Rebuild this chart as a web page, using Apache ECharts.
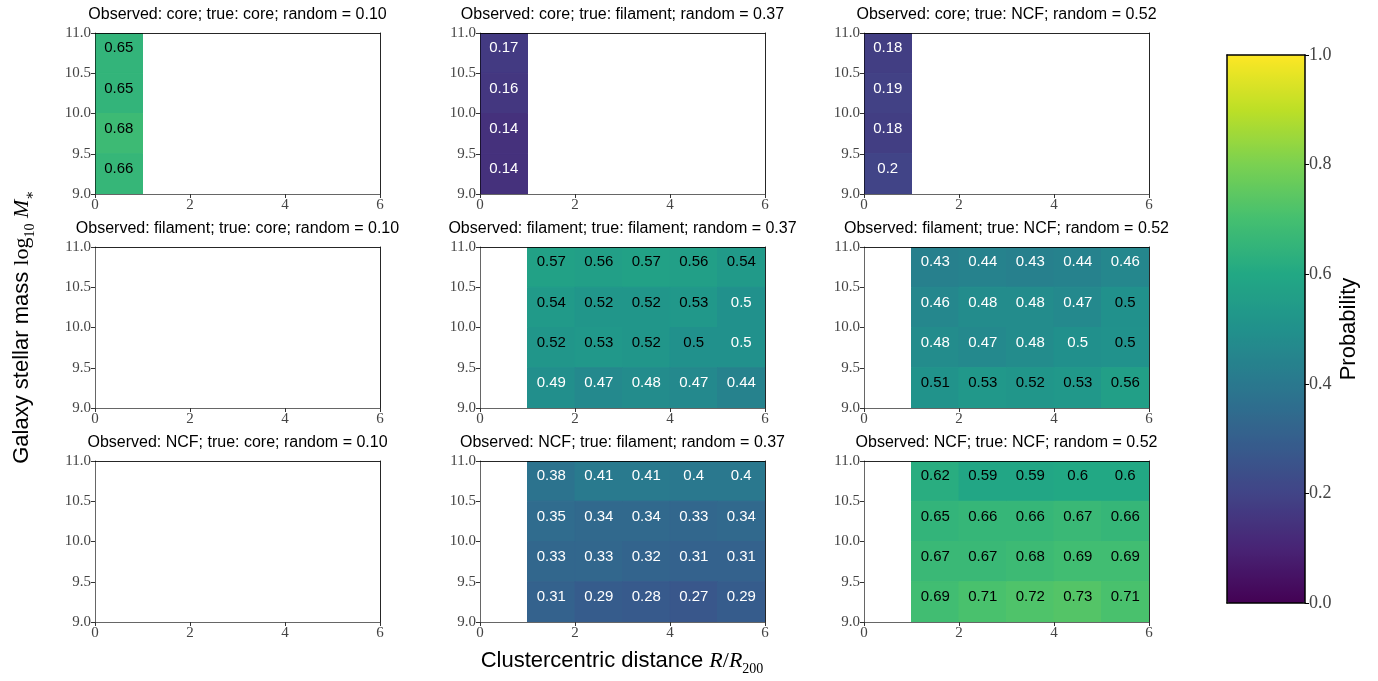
<!DOCTYPE html>
<html lang="en">
  <head>
    <meta charset="UTF-8" />
    <title>environment probabilities</title>
    <script src="https://cdn.jsdelivr.net/npm/echarts@6/dist/echarts.min.js"></script>
    <style>
      html, body { margin: 0; background: #fff; }
      #main { width: 1378px; height: 681px; }
    </style>
  </head>
  <body>
    <div id="main"></div>
    <script>
      // bin edges of the 2d histograms
      let distEdges = [0, 1, 2, 3, 4, 5, 6]
      let massEdges = [9.0, 9.5, 10.0, 10.5, 11.0]
      let environments = ['core', 'filament', 'NCF']
      let randomProb = [0.10, 0.37, 0.52]   // by true environment
      let firstBin = [0, 1, 1]               // first distance bin, by observed environment
      let xTicks = [0, 6, 2]                 // min, max, step
      let yTicks = [9.0, 11.0, 0.5]
      let cbarTicks = [0, 1, 0.2]

      // rows go from the top mass bin (10.5-11.0) down to 9.0-9.5
      let coreCore = [[0.65], [0.65], [0.68], [0.66]]
      let coreFil = [[0.17], [0.16], [0.14], [0.14]]
      let coreNcf = [[0.18], [0.19], [0.18], [0.2]]
      let filCore = []
      let filFil = [
        [0.57, 0.56, 0.57, 0.56, 0.54],
        [0.54, 0.52, 0.52, 0.53, 0.498],
        [0.52, 0.53, 0.52, 0.502, 0.499],
        [0.49, 0.47, 0.48, 0.47, 0.44]
      ]
      let filNcf = [
        [0.43, 0.44, 0.43, 0.44, 0.46],
        [0.46, 0.48, 0.48, 0.47, 0.501],
        [0.48, 0.47, 0.48, 0.497, 0.503],
        [0.51, 0.53, 0.52, 0.53, 0.56]
      ]
      let ncfCore = []
      let ncfFil = [
        [0.38, 0.41, 0.41, 0.4, 0.4],
        [0.35, 0.34, 0.34, 0.33, 0.34],
        [0.33, 0.33, 0.32, 0.31, 0.31],
        [0.31, 0.29, 0.28, 0.27, 0.29]
      ]
      let ncfNcf = [
        [0.62, 0.59, 0.59, 0.6, 0.6],
        [0.65, 0.66, 0.66, 0.67, 0.66],
        [0.67, 0.67, 0.68, 0.69, 0.69],
        [0.69, 0.71, 0.72, 0.73, 0.71]
      ]
      let panels = [
        [coreCore, coreFil, coreNcf],
        [filCore, filFil, filNcf],
        [ncfCore, ncfFil, ncfNcf]
      ]

      let viridis = ['#440154', '#482475', '#414487', '#355f8d', '#2a788e', '#21918c',
        '#22a884', '#44bf70', '#7ad151', '#bddf26', '#fde725']

      let colLeft = [95, 480, 864]
      let rowTop = [33, 247, 461]
      let panelW = 285
      let panelH = 161
      let serif = '"Liberation Serif", "DejaVu Serif", serif'
      let sans = '"Liberation Sans", Arial, sans-serif'

      let cells = (rows, start) => {
        let out = []
        rows.forEach((row, r) => {
          let m = massEdges.length - 2 - r
          row.forEach((v, c) => {
            let k = start + c
            out.push([distEdges[k], distEdges[k + 1], massEdges[m], massEdges[m + 1], v])
          })
        })
        return out
      }

      let renderCell = (params, api) => {
        let tl = api.coord([api.value(0), api.value(3)])
        let br = api.coord([api.value(1), api.value(2)])
        let v = api.value(4)
        let color = api.visual('color')
        return {
          type: 'group',
          children: [
            {
              type: 'rect',
              shape: { x: tl[0], y: tl[1], width: br[0] - tl[0], height: br[1] - tl[1] },
              style: { fill: color, stroke: color, lineWidth: 1 }
            },
            {
              type: 'text',
              z2: 10,
              style: {
                text: String(Math.round(v * 100) / 100),
                x: (tl[0] + br[0]) / 2,
                y: (tl[1] + br[1]) / 2 - 5,
                fill: v > 0.5 ? '#000' : '#fff',
                font: '15px ' + sans,
                textAlign: 'center',
                textVerticalAlign: 'middle'
              }
            }
          ]
        }
      }

      let spine = (color) => ({ show: true, onZero: false, lineStyle: { color: color, width: 1 } })
      let frame = { show: true, onZero: false, lineStyle: { color: '#000', width: 1.5 } }

      let grids = [], xAxes = [], yAxes = [], series = [], titles = []
      environments.forEach((obs, r) => {
        environments.forEach((tru, c) => {
          let i = grids.length
          grids.push({ left: colLeft[c], top: rowTop[r], width: panelW, height: panelH })
          titles.push({
            text: 'Observed: ' + obs + '; true: ' + tru + '; random = ' + randomProb[c].toFixed(2),
            left: colLeft[c] + panelW / 2,
            top: rowTop[r] - 26,
            textAlign: 'center',
            padding: 0,
            textStyle: { fontFamily: sans, fontSize: 16, fontWeight: 'normal', color: '#000' }
          })
          xAxes.push({
            gridIndex: i, type: 'value', min: xTicks[0], max: xTicks[1], interval: xTicks[2],
            position: 'bottom', z: 5,
            axisLine: spine('rgba(0,0,0,0.6)'),
            axisTick: { show: true, length: 4, lineStyle: { color: '#333' } },
            axisLabel: { margin: 4, fontFamily: serif, fontSize: 15, color: '#444' },
            splitLine: { show: false }
          }, {
            gridIndex: i, type: 'value', min: xTicks[0], max: xTicks[1],
            position: 'top', z: 5,
            axisLine: spine('rgba(0,0,0,0.85)'),
            axisTick: { show: false }, axisLabel: { show: false }, splitLine: { show: false }
          })
          yAxes.push({
            gridIndex: i, type: 'value', min: yTicks[0], max: yTicks[1], interval: yTicks[2],
            position: 'left', z: 5,
            axisLine: spine('rgba(0,0,0,0.6)'),
            axisTick: { show: true, length: 4, lineStyle: { color: '#333' } },
            axisLabel: { margin: 4, fontFamily: serif, fontSize: 15, color: '#444', formatter: (v) => v.toFixed(1) },
            splitLine: { show: false }
          }, {
            gridIndex: i, type: 'value', min: yTicks[0], max: yTicks[1],
            position: 'right', z: 5,
            axisLine: spine('rgba(0,0,0,0.85)'),
            axisTick: { show: false }, axisLabel: { show: false }, splitLine: { show: false }
          })
          series.push({
            type: 'custom',
            xAxisIndex: 2 * i,
            yAxisIndex: 2 * i,
            renderItem: renderCell,
            encode: { x: [0, 1], y: [2, 3] },
            clip: true,
            silent: true,
            data: cells(panels[r][c], firstBin[r])
          })
        })
      })

      // colour bar frame and ticks
      let cb = grids.length
      grids.push({ left: 1227, top: 55, width: 78, height: 548, z: 10 })
      xAxes.push(
        { gridIndex: cb, type: 'value', min: 0, max: 1, position: 'bottom', z: 10, zlevel: 1,
          axisLine: frame, axisTick: { show: false }, axisLabel: { show: false }, splitLine: { show: false } },
        { gridIndex: cb, type: 'value', min: 0, max: 1, position: 'top', z: 10, zlevel: 1,
          axisLine: frame, axisTick: { show: false }, axisLabel: { show: false }, splitLine: { show: false } }
      )
      yAxes.push(
        { gridIndex: cb, type: 'value', min: cbarTicks[0], max: cbarTicks[1], interval: cbarTicks[2],
          position: 'right', z: 10, zlevel: 1,
          axisLine: frame,
          axisTick: { show: true, length: 4, lineStyle: { color: '#000' } },
          axisLabel: { margin: 4, fontFamily: serif, fontSize: 18, color: '#444', formatter: (v) => v.toFixed(1) },
          splitLine: { show: false } },
        { gridIndex: cb, type: 'value', min: 0, max: 1, position: 'left', z: 10, zlevel: 1,
          axisLine: frame, axisTick: { show: false }, axisLabel: { show: false }, splitLine: { show: false } }
      )

      let option = {
        animation: false,
        backgroundColor: '#fff',
        title: titles,
        grid: grids,
        xAxis: xAxes,
        yAxis: yAxes,
        visualMap: {
          type: 'continuous',
          min: 0,
          max: 1,
          dimension: 4,
          seriesIndex: series.map((s, i) => i),
          calculable: false,
          hoverLink: false,
          orient: 'vertical',
          left: 1227,
          top: 55,
          padding: 0,
          z: 1,
          itemWidth: 78,
          itemHeight: 548,
          inRange: { color: viridis }
        },
        graphic: [
          {
            type: 'text',
            x: 22, y: 327,
            rotation: Math.PI / 2,
            style: {
              text: '{a|Galaxy stellar mass }{m|log}{s|10}{m| }{i|M}{s|∗}',
              align: 'center', verticalAlign: 'middle',
              rich: {
                a: { fontFamily: sans, fontSize: 22, lineHeight: 30, verticalAlign: 'middle', fill: '#000' },
                m: { fontFamily: serif, fontSize: 22, lineHeight: 30, verticalAlign: 'middle', fill: '#000' },
                i: { fontFamily: serif, fontSize: 22, fontStyle: 'italic', lineHeight: 30, verticalAlign: 'middle', fill: '#000' },
                s: { fontFamily: serif, fontSize: 14, lineHeight: 30, verticalAlign: 'bottom', fill: '#000' }
              }
            }
          },
          {
            type: 'text',
            x: 622, y: 661,
            style: {
              text: '{a|Clustercentric distance }{i|R}{m|/}{i|R}{s|200}',
              align: 'center', verticalAlign: 'middle',
              rich: {
                a: { fontFamily: sans, fontSize: 22, lineHeight: 30, verticalAlign: 'middle', fill: '#000' },
                m: { fontFamily: serif, fontSize: 22, lineHeight: 30, verticalAlign: 'middle', fill: '#000' },
                i: { fontFamily: serif, fontSize: 22, fontStyle: 'italic', lineHeight: 30, verticalAlign: 'middle', fill: '#000' },
                s: { fontFamily: serif, fontSize: 14, lineHeight: 30, verticalAlign: 'bottom', fill: '#000' }
              }
            }
          },
          {
            type: 'text',
            x: 1349, y: 329,
            rotation: Math.PI / 2,
            style: {
              text: 'Probability',
              align: 'center', verticalAlign: 'middle',
              font: '22px ' + sans,
              fill: '#000'
            }
          }
        ],
        series: series
      }

      echarts.init(document.getElementById('main')).setOption(option)
    </script>
  </body>
</html>
